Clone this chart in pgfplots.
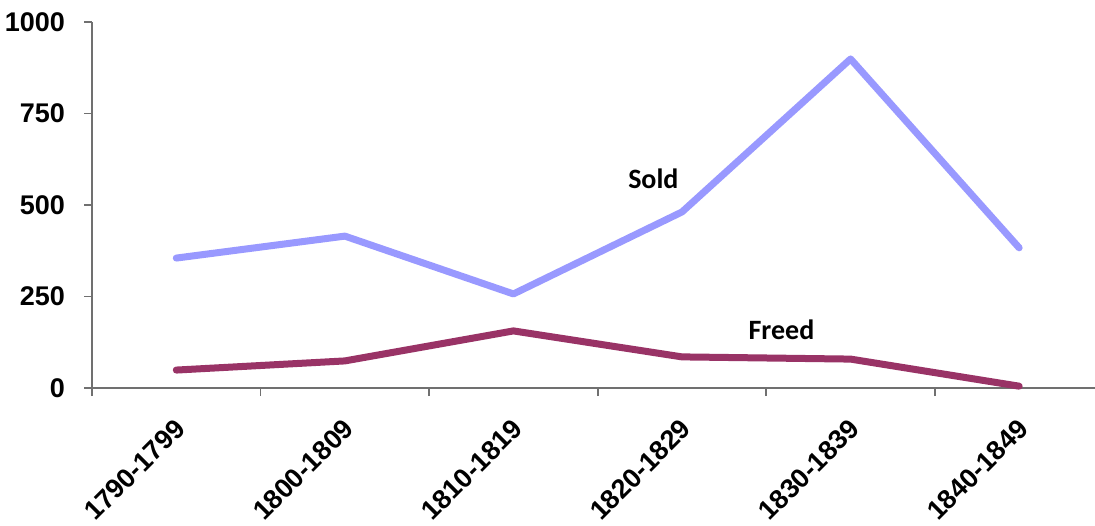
\documentclass[border=0pt]{standalone}
\usepackage{pgfplots}
\pgfplotsset{compat=1.18}
\usetikzlibrary{calc}
\usepackage{fontspec}
\setmainfont{Liberation Sans}
\newfontfamily\carlito{Carlito}
\definecolor{soldc}{HTML}{9999FF}
\definecolor{freedc}{HTML}{993366}
\definecolor{axisgray}{HTML}{707070}

\begin{document}
\begin{tikzpicture}
\begin{axis}[
  scale only axis,
  width=501.5pt, height=183pt,
  xmin=-0.5, xmax=5.45,
  ymin=0, ymax=1000,
  axis x line*=bottom, axis y line*=left,
  axis line style={-, axisgray, line width=0.8pt},
  ytick={0,250,500,750,1000},
  xtick={0,...,5},
  xticklabels={1790-1799,1800-1809,1810-1819,1820-1829,1830-1839,1840-1849},
  minor xtick={-0.5,0.5,...,5.5},
  major x tick style={draw=none},
  tick align=outside,
  major tick length=4pt, minor tick length=4pt,
  tick style={axisgray, line width=0.8pt},
  xticklabel style={rotate=45, anchor=north east, xshift=-5pt, yshift=-3pt,
    font=\bfseries\fontsize{13.5}{16}\selectfont},
  yticklabel style={font=\bfseries\fontsize{13.5}{16}\selectfont, xshift=-6pt},
  /pgf/number format/1000 sep={},
  /pgf/number format/assume math mode=true,
  every axis plot/.append style={line width=3.5pt, line join=round, line cap=round},
  clip=false,
]
\addplot[soldc] coordinates {(0,355) (1,415) (2,257) (3,481) (4,899) (5,383)};
\addplot[freedc] coordinates {(0,49) (1,74) (2,156) (3,85) (4,79) (5,5)};
\node[font=\carlito\bfseries\fontsize{14}{16}\selectfont] at (axis cs:2.83,571) {Sold};
\node[font=\carlito\bfseries\fontsize{14}{16}\selectfont] at (axis cs:3.59,158) {Freed};
\coordinate (bl) at (rel axis cs:0,0);
\coordinate (tr) at (rel axis cs:1,1);
\end{axis}
\pgfresetboundingbox
\path[use as bounding box] ($(bl)+(-46pt,-68.5pt)$) rectangle ($(tr)+(0,11pt)$);
\end{tikzpicture}
\end{document}
